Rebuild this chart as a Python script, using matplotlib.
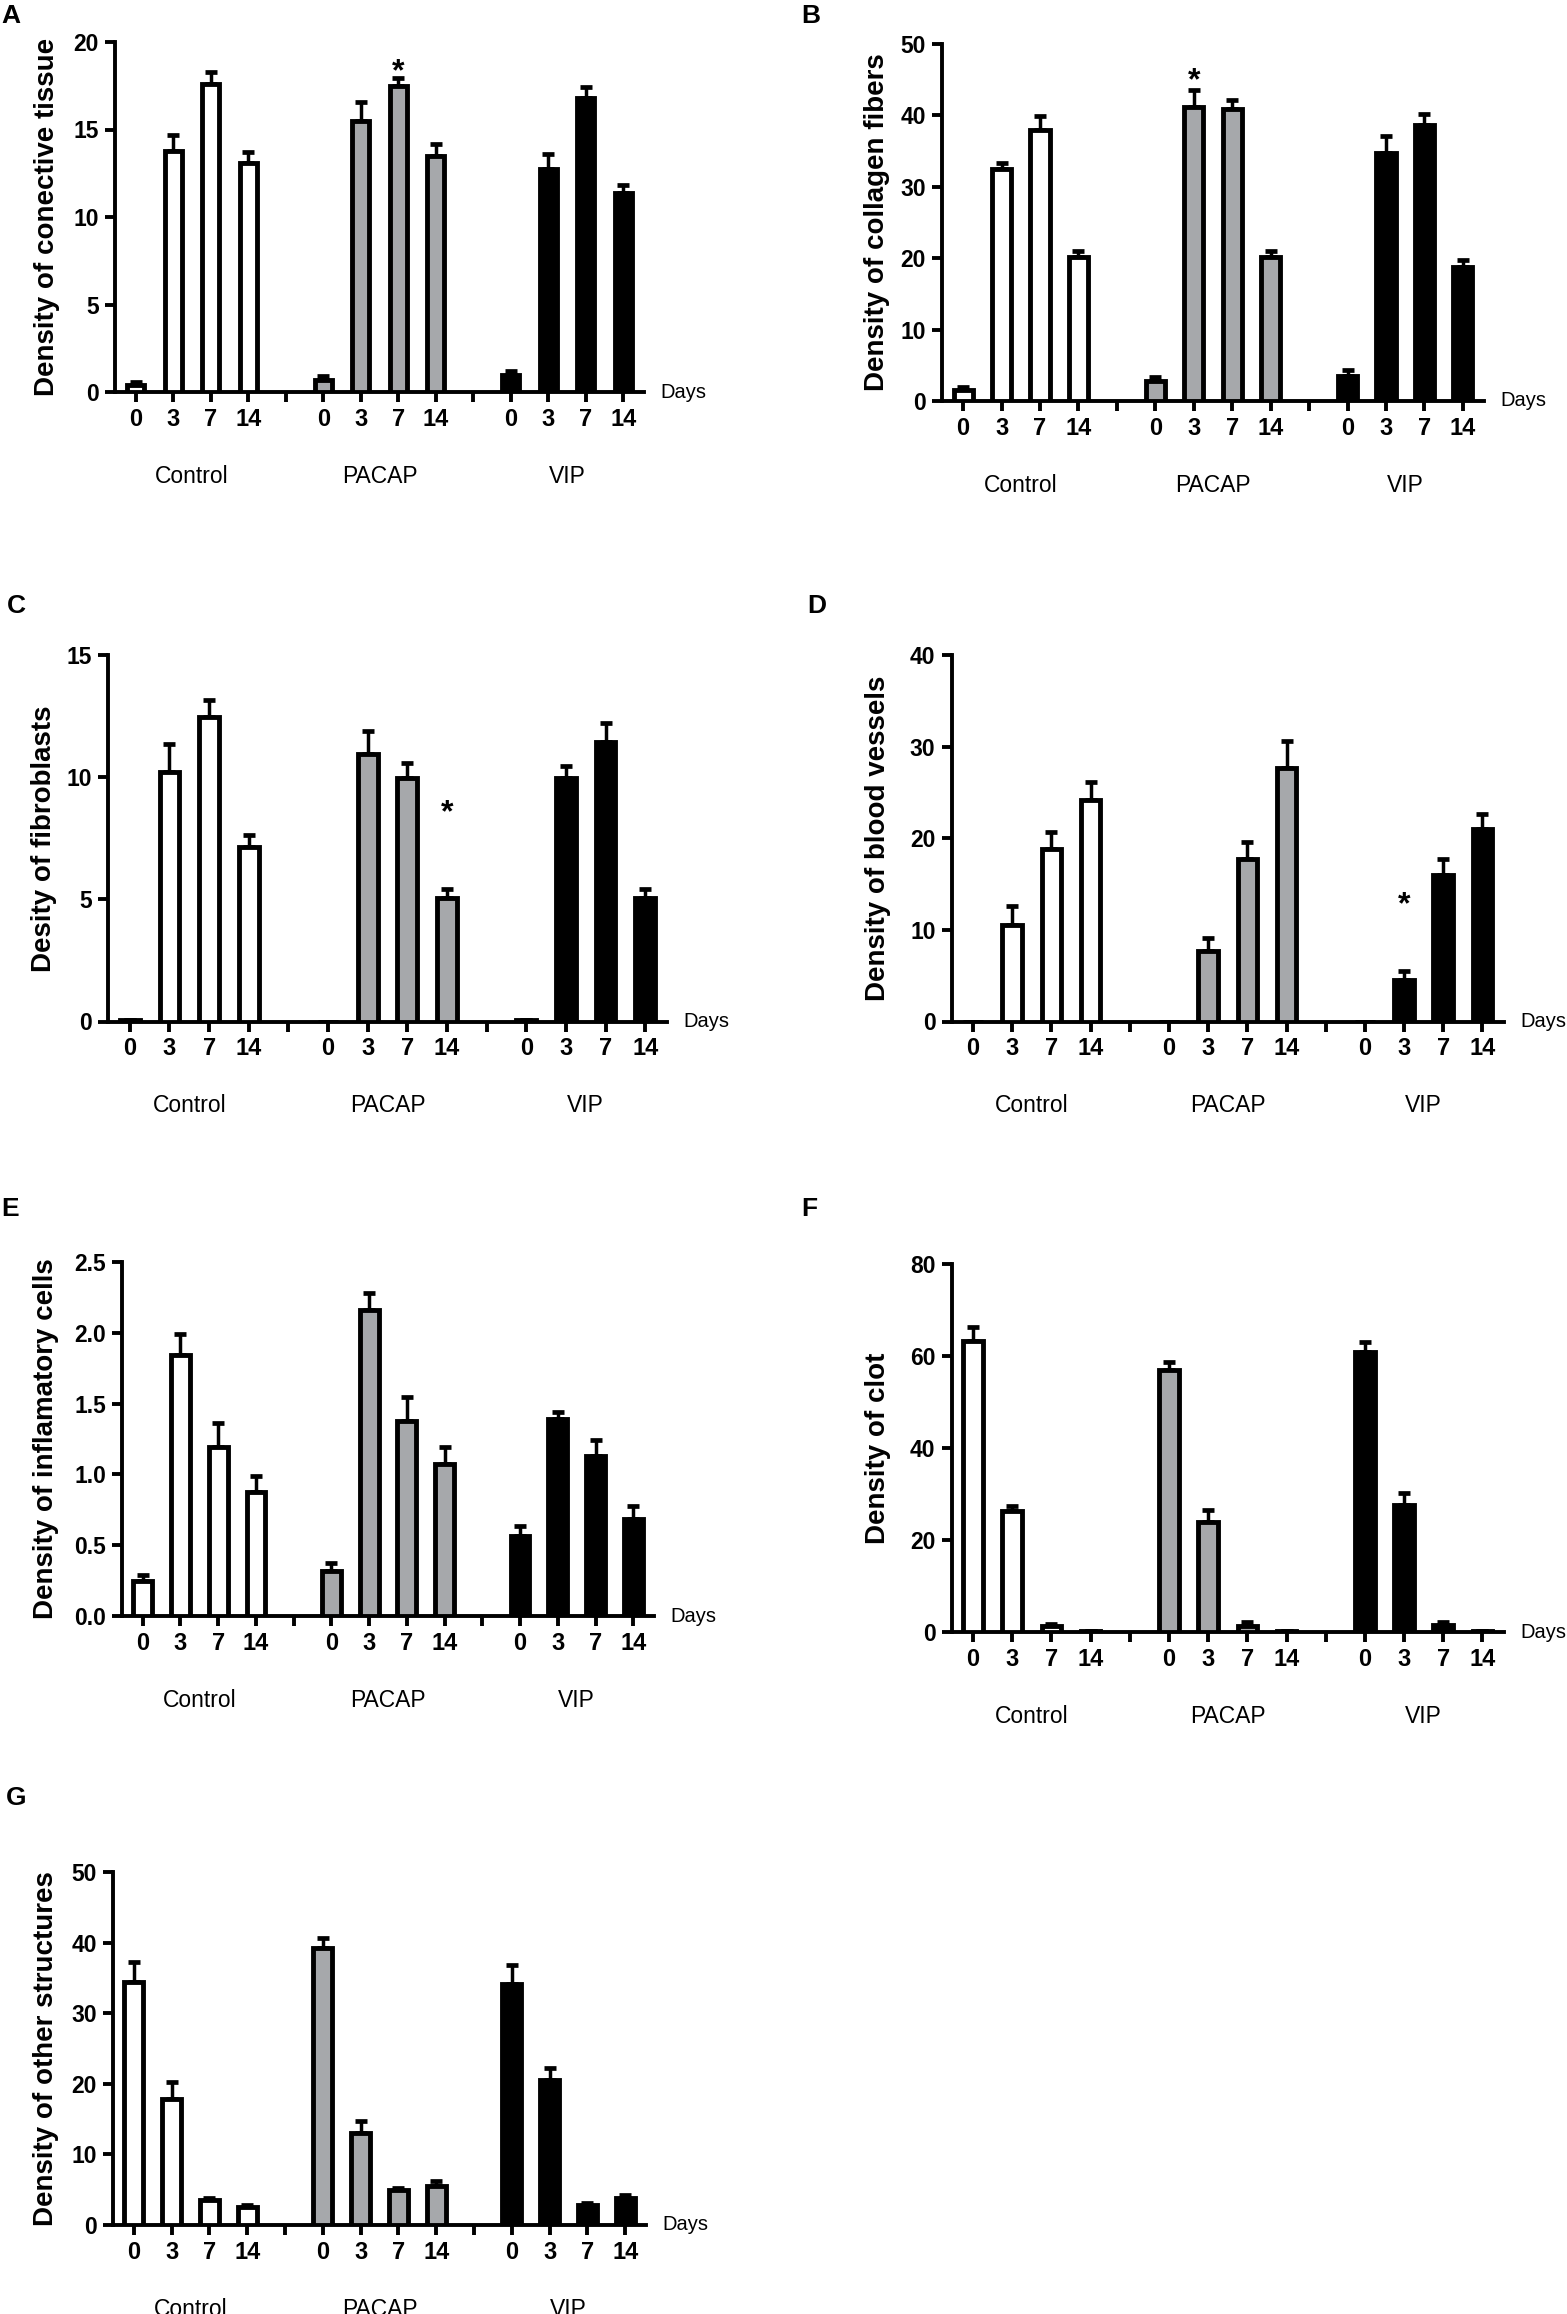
import numpy as np
import matplotlib
matplotlib.use('Agg')
import matplotlib.pyplot as plt
from matplotlib.ticker import FormatStrFormatter

plt.rcParams['font.family'] = ['Liberation Sans', 'DejaVu Sans']

days = ['0', '3', '7', '14']
groups = ['Control', 'PACAP', 'VIP']
group_colors = ['white', '#a6a8ab', 'black']

# rows = Control, PACAP, VIP ; columns = day 0, 3, 7, 14
conn_mean = [[0.4, 13.8, 17.6, 13.1], [0.7, 15.5, 17.5, 13.5], [1.0, 12.75, 16.8, 11.4]]
conn_err = [[0.2, 0.9, 0.7, 0.6], [0.2, 1.1, 0.45, 0.65], [0.22, 0.85, 0.6, 0.45]]

coll_mean = [[1.5, 32.5, 38.0, 20.2], [2.8, 41.2, 40.9, 20.2], [3.55, 34.8, 38.7, 18.8]]
coll_err = [[0.5, 0.8, 1.9, 0.8], [0.6, 2.3, 1.3, 0.8], [0.8, 2.25, 1.5, 0.9]]

fib_mean = [[0.05, 10.2, 12.47, 7.13], [0.0, 10.96, 9.96, 5.04], [0.05, 9.96, 11.44, 5.04]]
fib_err = [[0.0, 1.15, 0.69, 0.49], [0.0, 0.94, 0.64, 0.37], [0.0, 0.48, 0.76, 0.37]]

vess_mean = [[0.0, 10.5, 18.8, 24.2], [0.0, 7.65, 17.7, 27.7], [0.0, 4.5, 16.0, 21.0]]
vess_err = [[0.0, 2.1, 1.9, 1.9], [0.0, 1.45, 1.9, 2.9], [0.0, 1.0, 1.7, 1.7]]

infl_mean = [[0.245, 1.84, 1.19, 0.876], [0.318, 2.16, 1.38, 1.07], [0.567, 1.394, 1.133, 0.685]]
infl_err = [[0.045, 0.15, 0.17, 0.114], [0.056, 0.12, 0.17, 0.12], [0.069, 0.049, 0.11, 0.093]]

clot_mean = [[63.3, 26.2, 1.2, 0.2], [57.0, 23.9, 1.35, 0.2], [60.8, 27.7, 1.5, 0.25]]
clot_err = [[2.9, 1.3, 0.5, 0.0], [1.8, 2.7, 0.75, 0.0], [2.3, 2.5, 0.76, 0.0]]

other_mean = [[34.4, 17.8, 3.5, 2.5], [39.2, 13.1, 5.0, 5.5], [34.1, 20.6, 2.9, 3.8]]
other_err = [[2.9, 2.45, 0.3, 0.4], [1.5, 1.6, 0.3, 0.7], [2.7, 1.7, 0.25, 0.46]]

W, H = 1567, 2314
fig = plt.figure(figsize=(W / 100, H / 100), dpi=100)

LW = 2.8


def panel(letter, letter_xy, box, ymax, step, means, errs, ylabel, ylabel_x,
          star=None, fmt='%d', bar_w=0.5):
    x0, x1, ytop, yzero = box
    ax = fig.add_axes([x0 / W, 1 - yzero / H, (x1 - x0) / W, (yzero - ytop) / H])
    for g in range(3):
        x = g * 5 + np.arange(4)
        ax.errorbar(x, means[g], yerr=[np.zeros(4), errs[g]], fmt='none',
                    ecolor='black', elinewidth=2.5, capsize=4.2, capthick=3.4, zorder=2)
        ax.bar(x, means[g], width=bar_w, color=group_colors[g], edgecolor='black',
               linewidth=3.5, zorder=3)
        ax.annotate(groups[g], xy=(g * 5 + 1.5, 0), xycoords=('data', 'axes fraction'),
                    xytext=(0, -60.5), textcoords='offset points',
                    ha='center', va='center', fontsize=16.5)
    ax.set_xlim(-0.55, 13.55)
    ax.set_ylim(0, ymax)
    ax.set_xticks(np.arange(14))
    ax.set_xticklabels(days + [''] + days + [''] + days)
    ax.set_yticks(np.arange(0, ymax + step / 2, step))
    ax.yaxis.set_major_formatter(FormatStrFormatter(fmt))
    for s in ['top', 'right']:
        ax.spines[s].set_visible(False)
    for s in ['left', 'bottom']:
        ax.spines[s].set_linewidth(LW)
    ax.tick_params(axis='both', direction='out', length=7, width=LW)
    ax.tick_params(axis='x', labelsize=17, pad=4.5)
    ax.tick_params(axis='y', labelsize=16.5, pad=4.5)
    for t in ax.get_xticklabels() + ax.get_yticklabels():
        t.set_fontweight('bold')
    ax.annotate('Days', xy=(1, 0), xycoords='axes fraction', xytext=(11.5, 0),
                textcoords='offset points', ha='left', va='center', fontsize=14.5)
    fig.text(ylabel_x / W, 1 - (ytop + yzero) / 2 / H, ylabel, rotation=90,
             ha='center', va='center', fontsize=20, fontweight='bold')
    fig.text(letter_xy[0] / W, 1 - letter_xy[1] / H, letter, ha='center',
             va='center', fontsize=19, fontweight='bold')
    if star is not None:
        ax.annotate('*', xy=star, xytext=(0, -12.7), textcoords='offset points',
                    ha='center', va='baseline', fontsize=23, fontweight='bold')
    return ax


panel('A', (11, 16), (115, 644, 42, 392), 20, 5, conn_mean, conn_err,
      'Density of conective tissue', 47, star=(7, 18.8), bar_w=0.46)
panel('B', (811, 16), (942, 1484, 44, 401), 50, 10, coll_mean, coll_err,
      'Density of collagen fibers', 877, star=(6, 46.2))
panel('C', (16, 606), (108, 667, 655, 1021.5), 15, 5, fib_mean, fib_err,
      'Desity of fibroblasts', 44, star=(8, 8.9))
panel('D', (817, 606), (951.5, 1504, 655, 1021.5), 40, 10, vess_mean, vess_err,
      'Density of blood vessels', 878, star=(11, 13.7))
panel('E', (10, 1209), (122, 654, 1262, 1616), 2.5, 0.5, infl_mean, infl_err,
      'Density of inflamatory cells', 46, fmt='%.1f')
panel('F', (809, 1209), (951.5, 1504, 1264, 1632), 80, 20, clot_mean, clot_err,
      'Density of clot', 878)
panel('G', (16, 1798), (113, 646, 1872, 2225), 50, 10, other_mean, other_err,
      'Density of other structures', 46)

fig.savefig('out.png', dpi=100)
